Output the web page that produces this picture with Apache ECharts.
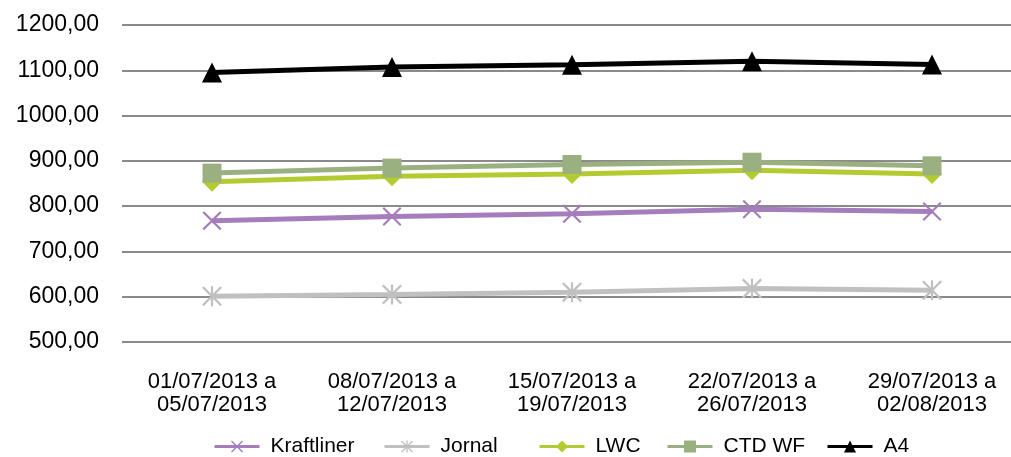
<!DOCTYPE html>
<html>
<head>
<meta charset="utf-8">
<style>
  html, body { margin: 0; padding: 0; background: #ffffff; overflow: hidden; }
  /* the plot area runs slightly past the right edge of the window */
  #chart { width: 1022px; height: 457px; }
</style>
<script src="https://cdn.jsdelivr.net/npm/echarts@6/dist/echarts.min.js"></script>
</head>
<body>
<div id="chart"></div>
<script>
// Weekly price periods
const categories = [
  '01/07/2013 a\n05/07/2013',
  '08/07/2013 a\n12/07/2013',
  '15/07/2013 a\n19/07/2013',
  '22/07/2013 a\n26/07/2013',
  '29/07/2013 a\n02/08/2013'
];

// Series names and prices per paper grade
const seriesNames = ['Kraftliner', 'Jornal', 'LWC', 'CTD WF', 'A4'];
const kraftliner = [768, 777, 783, 793, 788];
const jornal     = [601, 605, 610, 618, 614];
const lwc        = [854, 866, 871, 879, 871];
const ctdWf      = [873, 884, 892, 897, 889];
const a4         = [1095, 1107, 1112, 1120, 1113];

// Value axis range
const yMin = 500;
const yMax = 1200;
const yStep = 100;

// Marker shapes drawn as filled outlines
const crossPath = 'path://M0,0.8 L0.8,0 L5,4.2 L9.2,0 L10,0.8 L5.8,5 L10,9.2 L9.2,10 L5,5.8 L0.8,10 L0,9.2 L4.2,5 Z';
const starPath = 'path://M0,0.8 L0.8,0 L5,4.2 L9.2,0 L10,0.8 L5.8,5 L10,9.2 L9.2,10 L5,5.8 L0.8,10 L0,9.2 L4.2,5 Z M4.45,0 L5.55,0 L5.55,10 L4.45,10 Z';

const font = 'Liberation Sans';

function lineSeries(name, data, color, symbol, size) {
  return {
    name: name,
    type: 'line',
    data: data,
    symbol: symbol,
    symbolSize: size,
    showAllSymbol: true,
    lineStyle: { color: color, width: 5 },
    itemStyle: { color: color },
    emphasis: { disabled: true },
    animation: false
  };
}

// One legend block per entry, placed along the bottom row
const legendLefts = [213, 383, 538, 666, 826];
const legends = seriesNames.map((name, i) => ({
  data: [name],
  left: legendLefts[i],
  top: 436,
  padding: 0,
  itemWidth: 45,
  itemHeight: 15,
  lineStyle: { width: 3 },
  textStyle: { fontFamily: font, fontSize: 21, color: '#000000', padding: [0, 0, 0, 6] }
}));

const chart = echarts.init(document.getElementById('chart'));
chart.setOption({
  backgroundColor: '#ffffff',
  animation: false,
  grid: { left: 122, top: 25, right: 0, bottom: 115, containLabel: false },
  xAxis: {
    type: 'category',
    data: categories,
    boundaryGap: true,
    axisLine: { show: false },
    axisTick: { show: false },
    axisLabel: {
      interval: 0,
      margin: 28,
      fontFamily: font,
      fontSize: 22,
      lineHeight: 23,
      color: '#000000'
    }
  },
  yAxis: {
    type: 'value',
    min: yMin,
    max: yMax,
    interval: yStep,
    axisLine: { show: false },
    axisTick: { show: false },
    axisLabel: {
      margin: 23,
      fontFamily: font,
      fontSize: 23,
      color: '#000000',
      formatter: v => v.toFixed(2).replace('.', ',')
    },
    splitLine: { lineStyle: { color: '#8a8a8a', width: 2 } }
  },
  legend: legends,
  series: [
    lineSeries('Kraftliner', kraftliner, '#a57dbd', crossPath, 19),
    lineSeries('Jornal', jornal, '#c0c0c0', starPath, 20),
    lineSeries('LWC', lwc, '#b3cb30', 'diamond', 20),
    lineSeries('CTD WF', ctdWf, '#9bb080', 'rect', 19),
    lineSeries('A4', a4, '#000000', 'triangle', 20)
  ]
});
</script>
</body>
</html>
